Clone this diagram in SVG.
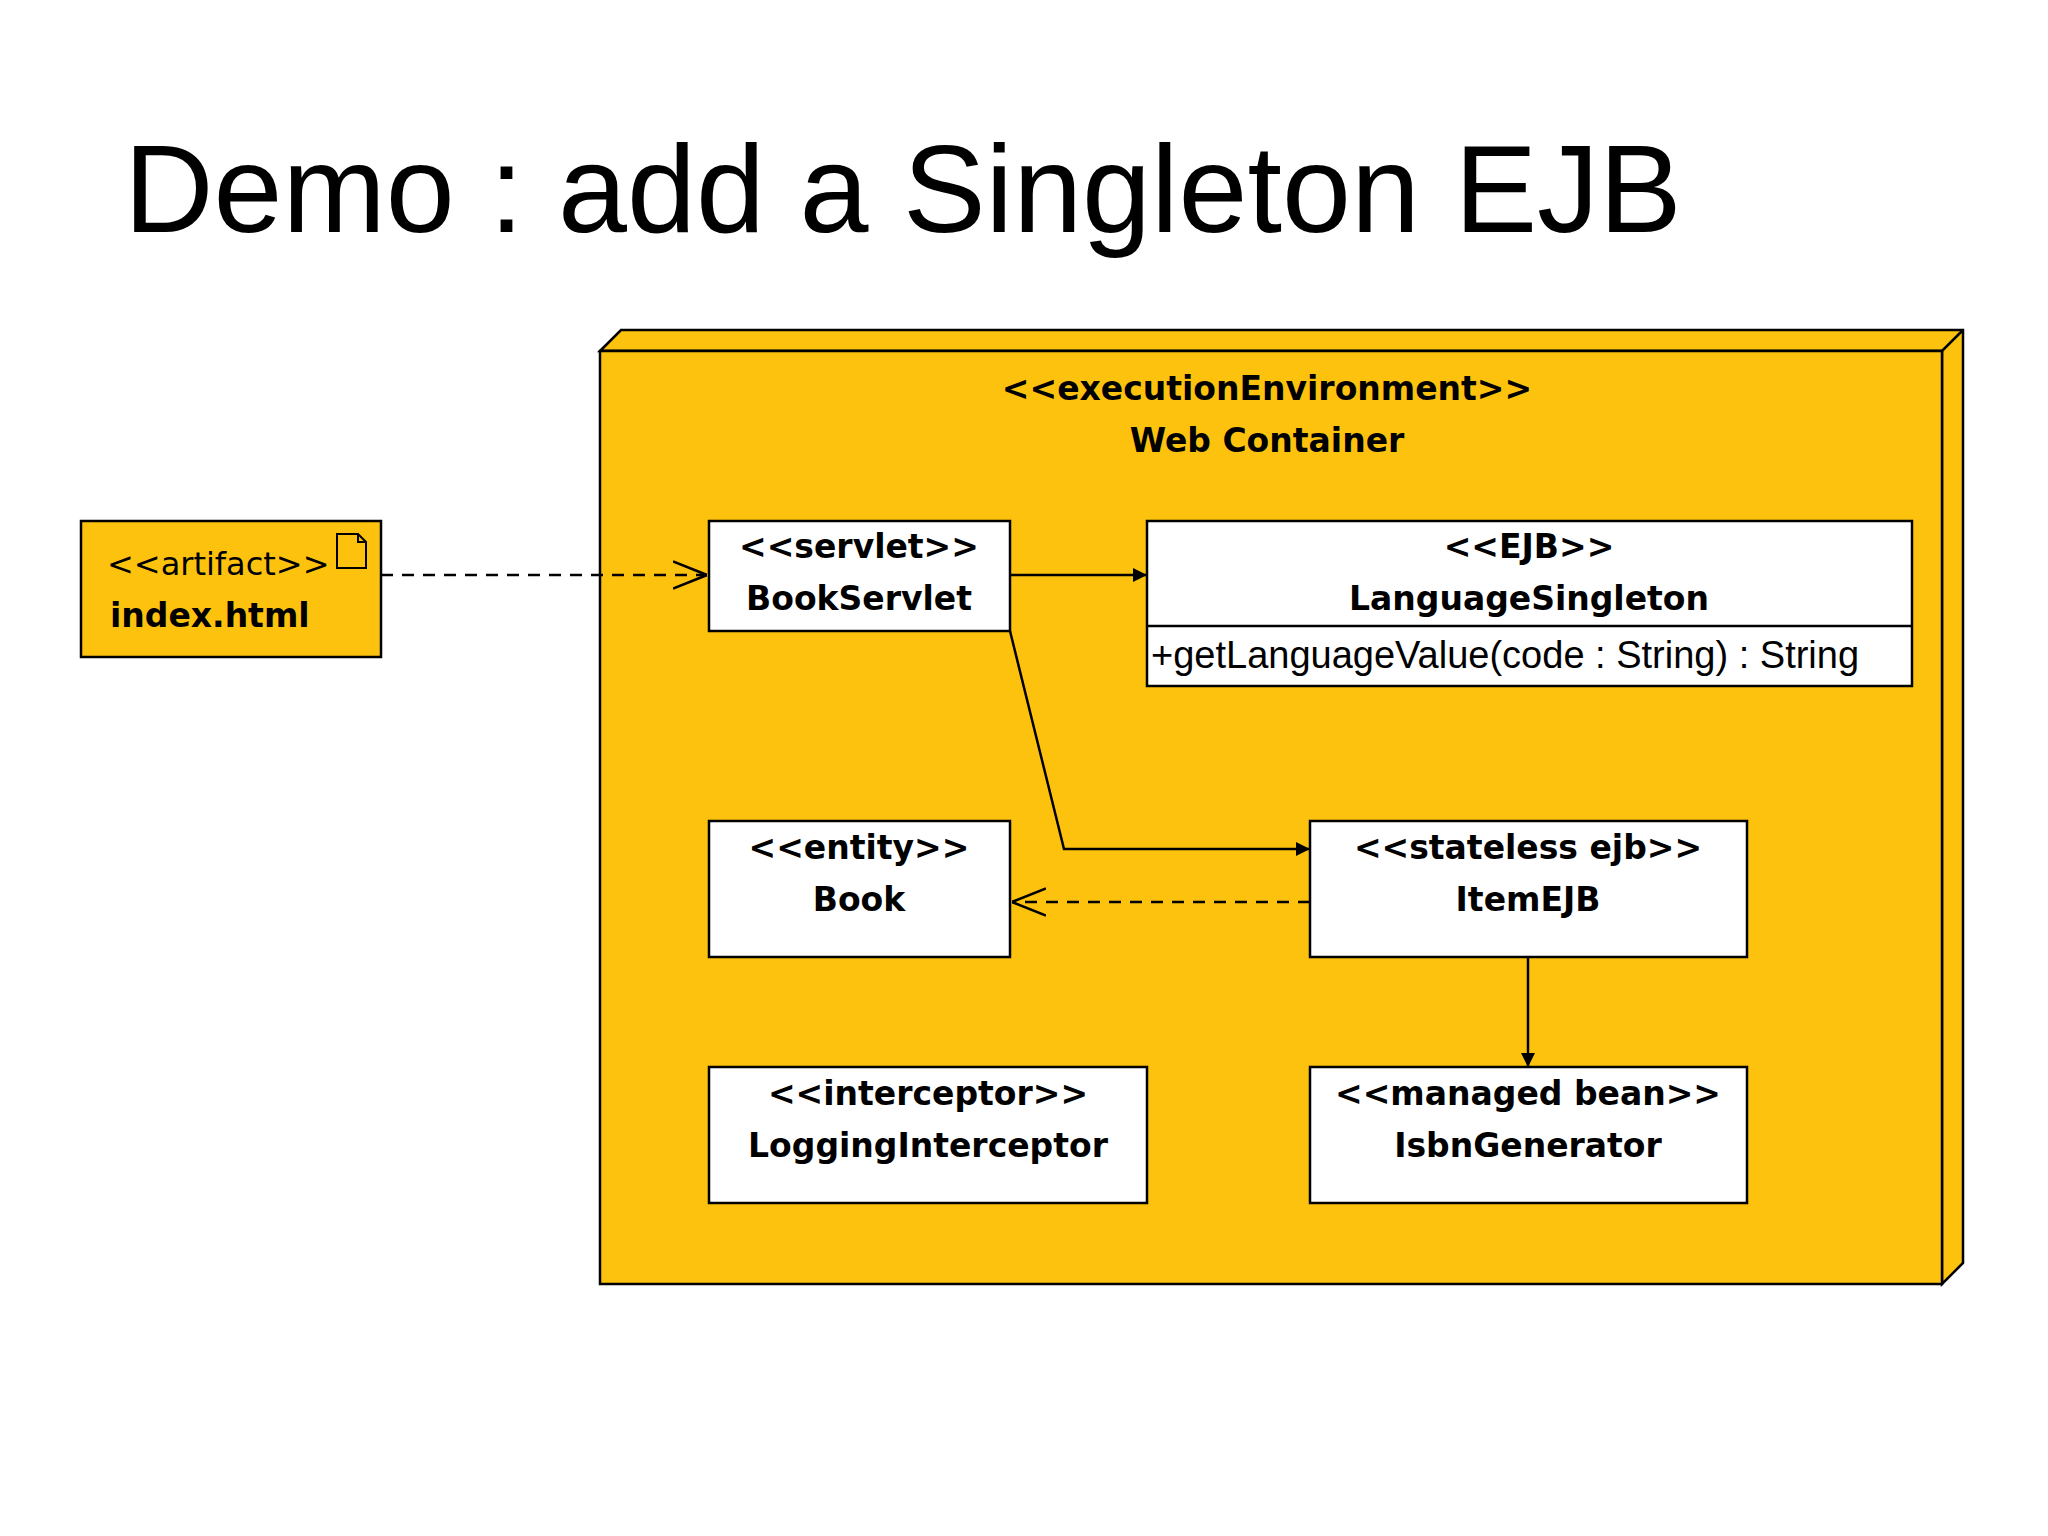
<svg xmlns="http://www.w3.org/2000/svg" width="2048" height="1536" viewBox="0 0 2048 1536">
<defs>
<style>
.box{fill:#fff;stroke:#000;stroke-width:2.5}
.b{font-family:"DejaVu Sans",sans-serif;font-weight:bold;font-size:33px;text-anchor:middle}
.ln{fill:none;stroke:#000;stroke-width:2.5}
.d{stroke-dasharray:12,9}
</style>
<marker id="f" viewBox="0 0 10 10" refX="10" refY="5" markerWidth="14" markerHeight="14" markerUnits="userSpaceOnUse" orient="auto"><path d="M0,0L10,5L0,10z"/></marker>
<marker id="o" viewBox="0 0 10 10" refX="10" refY="5" markerWidth="34" markerHeight="34" markerUnits="userSpaceOnUse" orient="auto"><path d="M0,1L10,5L0,9" fill="none" stroke="#000" stroke-width="0.8"/></marker>
</defs>
<rect width="2048" height="1536" fill="#fff"/>
<text x="124" y="232" font-family="Liberation Sans,Arial,sans-serif" font-size="124">Demo : add a Singleton EJB</text>
<g id="container">
<path d="M600,351L621,330L1963,330L1963,1263L1942,1284L1942,351Z" fill="#FDC20E" stroke="#000" stroke-width="2.5"/>
<path d="M600,351L1942,351L1963,330M1942,351" fill="none" stroke="#000" stroke-width="2.5"/>
<rect x="600" y="351" width="1342" height="933" fill="#FDC20E" stroke="#000" stroke-width="2.5"/>
<text class="b" x="1267" y="400">&lt;&lt;executionEnvironment&gt;&gt;</text>
<text class="b" x="1267" y="452">Web Container</text>
</g>
<g id="artifact">
<rect x="81" y="521" width="300" height="136" fill="#FDC20E" stroke="#000" stroke-width="2.5"/>
<text x="107" y="575" font-family="DejaVu Sans,sans-serif" font-size="32">&lt;&lt;artifact&gt;&gt;</text>
<text x="110" y="627" font-family="DejaVu Sans,sans-serif" font-weight="bold" font-size="33">index.html</text>
<path d="M337,534L358,534L366,542L366,568L337,568Z M358,534L358,542L366,542" fill="none" stroke="#000" stroke-width="2"/>
</g>
<g id="bookservlet"><rect class="box" x="709" y="521" width="301" height="110"/>
<text class="b" x="859" y="558">&lt;&lt;servlet&gt;&gt;</text><text class="b" x="859" y="610">BookServlet</text></g>
<g id="languagesingleton"><rect class="box" x="1147" y="521" width="765" height="165"/>
<line class="ln" x1="1147" y1="626" x2="1912" y2="626"/>
<text class="b" x="1529" y="558">&lt;&lt;EJB&gt;&gt;</text><text class="b" x="1529" y="610">LanguageSingleton</text>
<text x="1151" y="668" font-family="Liberation Sans,Arial,sans-serif" font-size="38">+getLanguageValue(code : String) : String</text></g>
<g id="book"><rect class="box" x="709" y="821" width="301" height="136"/>
<text class="b" x="859" y="859">&lt;&lt;entity&gt;&gt;</text><text class="b" x="859" y="911">Book</text></g>
<g id="itemejb"><rect class="box" x="1310" y="821" width="437" height="136"/>
<text class="b" x="1528" y="859">&lt;&lt;stateless ejb&gt;&gt;</text><text class="b" x="1528" y="911">ItemEJB</text></g>
<g id="logginginterceptor"><rect class="box" x="709" y="1067" width="438" height="136"/>
<text class="b" x="928" y="1105">&lt;&lt;interceptor&gt;&gt;</text><text class="b" x="928" y="1157">LoggingInterceptor</text></g>
<g id="isbngenerator"><rect class="box" x="1310" y="1067" width="437" height="136"/>
<text class="b" x="1528" y="1105">&lt;&lt;managed bean&gt;&gt;</text><text class="b" x="1528" y="1157">IsbnGenerator</text></g>
<g id="connectors">
<line class="ln d" x1="381" y1="575" x2="707" y2="575" marker-end="url(#o)"/>
<line class="ln" x1="1010" y1="575" x2="1147" y2="575" marker-end="url(#f)"/>
<polyline class="ln" points="1010,631 1064,849 1310,849" marker-end="url(#f)"/>
<line class="ln d" x1="1310" y1="902" x2="1012" y2="902" marker-end="url(#o)"/>
<line class="ln" x1="1528" y1="957" x2="1528" y2="1067" marker-end="url(#f)"/>
</g>
</svg>
